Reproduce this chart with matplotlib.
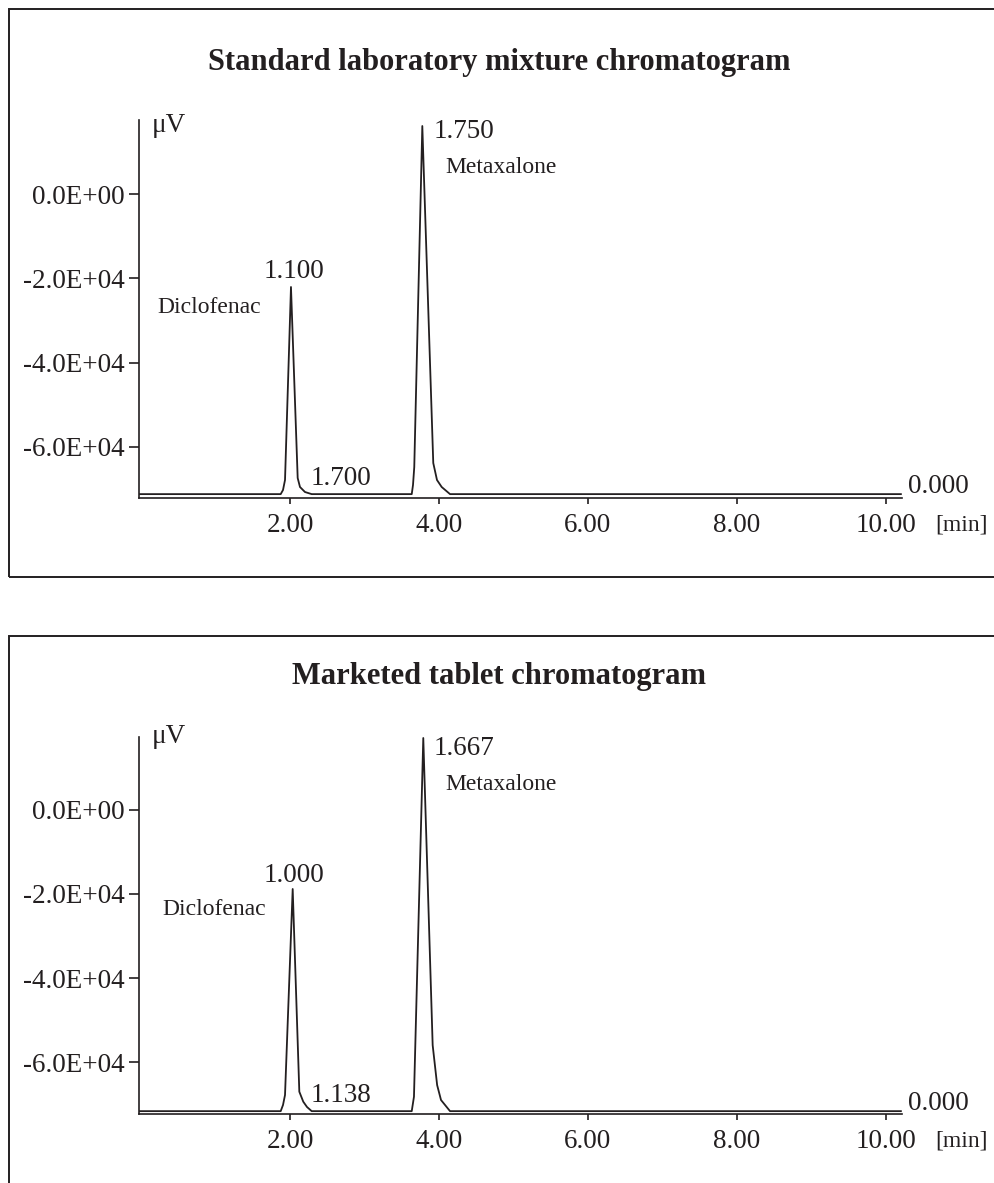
import matplotlib
matplotlib.use("Agg")
import matplotlib.pyplot as plt
from matplotlib.patches import Rectangle

plt.rcParams['font.family'] = ['Liberation Serif', 'DejaVu Serif']

INK = '#231f20'

# standard laboratory mixture (time in min, signal in uV)
std_time = [-0.03, 1.875, 1.906, 1.933, 2.013, 2.103, 2.134, 2.201, 2.291,
            3.634, 3.651, 3.668, 3.776, 3.923, 3.973, 4.036, 4.148, 10.2]
std_signal = [-71200, -71200, -70230, -67850, -22060, -67380, -69510, -70700, -71200,
              -71200, -69040, -64770, 16130, -63820, -67850, -69510, -71200, -71200]

# marketed tablet
mkt_time = [-0.03, 1.875, 1.906, 1.933, 2.036, 2.125, 2.178, 2.228, 2.291,
            3.634, 3.651, 3.664, 3.789, 3.915, 3.975, 4.027, 4.148, 10.2]
mkt_signal = [-71700, -71700, -70240, -67860, -18810, -67070, -69450, -70710, -71700,
              -71700, -69760, -68260, 17140, -56000, -65500, -69050, -71700, -71700]

x_ticks = [2, 4, 6, 8, 10]
x_labels = ['2.00', '4.00', '6.00', '8.00', '10.00']
y_ticks = [0, -20000, -40000, -60000]
y_labels = ['0.0E+00', '-2.0E+04', '-4.0E+04', '-6.0E+04']

titles = ['Standard laboratory mixture chromatogram', 'Marketed tablet chromatogram']
peak_labels = [['1.100', '1.700', '1.750', '0.000'], ['1.000', '1.138', '1.667', '0.000']]

W, H = 995, 1183
fig = plt.figure(figsize=(W / 100, H / 100), dpi=100)


def px_rect(left, top, right, bottom):
    return [left / W, 1 - bottom / H, (right - left) / W, (bottom - top) / H]


def draw(ax, t, s, ylim, labels, ypos):
    ax.plot(t, s, color=INK, lw=1.3)
    ax.set_xlim(-0.027, 10.215)
    ax.set_ylim(*ylim)
    for side in ['top', 'right']:
        ax.spines[side].set_visible(False)
    for side in ['left', 'bottom']:
        ax.spines[side].set_linewidth(1.2)
        ax.spines[side].set_color(INK)
    ax.set_xticks(x_ticks)
    ax.set_xticklabels(x_labels)
    ax.set_yticks(y_ticks)
    ax.set_yticklabels(y_labels)
    ax.tick_params(axis='y', length=7.2, width=1.2, pad=3.4, labelsize=19.5, colors=INK)
    ax.tick_params(axis='x', length=4.5, width=1.2, pad=6.5, labelsize=19.5, colors=INK)
    ax.patch.set_alpha(0)
    d_top, d_base, m_top, m_name, zero_y, unit_y, uv_y, dic_x = ypos
    ax.text(2.06, d_top, labels[0], ha='center', va='baseline', fontsize=19.5, color=INK)
    ax.text(dic_x, d_base, 'Diclofenac', ha='left', va='baseline', fontsize=17, color=INK)
    ax.text(2.27, zero_y[0], labels[1], ha='left', va='baseline', fontsize=19.5, color=INK)
    ax.text(3.923, m_top, labels[2], ha='left', va='baseline', fontsize=19.5, color=INK)
    ax.text(4.08, m_name, 'Metaxalone', ha='left', va='baseline', fontsize=17, color=INK)
    ax.text(10.30, zero_y[1], labels[3], ha='left', va='baseline', fontsize=19.5, color=INK)
    ax.text(10.66, unit_y, '[min]', ha='left', va='baseline', fontsize=17, color=INK, clip_on=False)
    ax.text(0.15, uv_y, 'μV', ha='left', va='baseline', fontsize=19.5, color=INK)


ax1 = fig.add_axes(px_rect(139, 120, 902, 498))
draw(ax1, std_time, std_signal, (-72120, 17560), peak_labels[0],
     (-19930, -28230, 13290, 4980, (-69040, -71040), -79720, 14700, 0.215))

ax2 = fig.add_axes(px_rect(139, 737, 902, 1114))
draw(ax2, mkt_time, mkt_signal, (-72380, 17380), peak_labels[1],
     (-17070, -25000, 13100, 4760, (-69450, -71430), -80170, 15950, 0.286))

# panel frames
fig.add_artist(Rectangle((9 / W, 1 - 577 / H), 1.05, (577 - 9) / H, transform=fig.transFigure,
                         fill=False, lw=1.4, edgecolor=INK, clip_on=False))
fig.add_artist(Rectangle((9 / W, -0.05), 1.05, 0.05 + 1 - 636 / H, transform=fig.transFigure,
                         fill=False, lw=1.4, edgecolor=INK, clip_on=False))

fig.text(0.5015, 1 - 70 / H, titles[0], ha='center', va='baseline', fontsize=22,
         fontweight='bold', color=INK)
fig.text(0.5015, 1 - 684 / H, titles[1], ha='center', va='baseline', fontsize=22,
         fontweight='bold', color=INK)

fig.savefig('out.png', dpi=100)
